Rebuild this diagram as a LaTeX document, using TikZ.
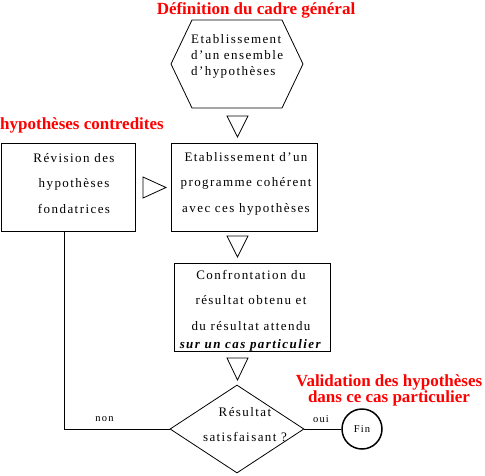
\documentclass[tikz,border=0pt]{standalone}
\usepackage{fontspec}
\setmainfont{Liberation Serif}[LetterSpace=11]
\newfontfamily\plainserif{Liberation Serif}
\usetikzlibrary{shapes.geometric}
\tikzset{
  x=1pt, y=-1pt,
  shapeline/.style={draw, line width=0.8pt},
  boxnode/.style={shapeline, rectangle, inner sep=0pt},
  bodytext/.style={inner sep=0pt, align=center, font=\fontsize{13}{25.5}\selectfont},
  smalltext/.style={inner sep=0pt, font=\fontsize{10.5}{12}\selectfont},
  redlabel/.style={inner sep=0pt, text=red, align=center, font=\plainserif\bfseries\fontsize{17}{16}\selectfont},
  tri/.style={draw, line width=0.8pt},
}
\begin{document}
\begin{tikzpicture}
\useasboundingbox (0,0) rectangle (485,475);
% red labels
\node[redlabel] (title) at (256,10) {Définition du cadre général};
\node[redlabel] (contra) at (82,125) {hypothèses contredites};
\node[redlabel] (valid) at (389,390) {Validation des hypothèses\\dans ce cas particulier};
% hexagon
\coordinate (hex) at (237,64);
\draw[shapeline] (192,20) -- (282,20) -- (303,64) -- (282,108) -- (192,108) -- (171,64) -- cycle;
\node[inner sep=0pt, anchor=west, align=left, font=\fontsize{13}{16}\selectfont] (hextext) at (191,56) {Etablissement\\d'un ensemble\\d'hypothèses};
% boxes
\node[boxnode, minimum width=134pt, minimum height=88pt] (box1) at (68,187) {};
\node[bodytext] (box1text) at (74,183.5) {Révision des\\hypothèses\\fondatrices};
\node[boxnode, minimum width=146pt, minimum height=88pt] (box2) at (244,187) {};
\node[bodytext] (box2text) at (246,183.5) {Etablissement d'un\\programme cohérent\\avec ces hypothèses};
\node[boxnode, minimum width=156pt, minimum height=88pt] (box3) at (252,307) {};
\node[bodytext] (box3text) at (251,311) {Confrontation du\\résultat obtenu et\\du résultat attendu\\[-7pt]\textbf{\textit{sur un cas particulier}}};
% decision
\node[shapeline, diamond, inner sep=0pt, minimum width=134pt, minimum height=88pt] (diam) at (237,429) {};
\node[bodytext] (diamtext) at (245,424.5) {Résultat\\satisfaisant ?};
\node[draw, circle, line width=1.5pt, minimum size=40pt, inner sep=0pt, font=\fontsize{10.5}{12}\selectfont] (fin) at (362,429) {Fin};
% triangles
\draw[tri] (227,116) -- (248,116) -- (237.5,137) -- cycle;
\draw[tri] (227,236) -- (248,236) -- (237.5,257) -- cycle;
\draw[tri] (227,358) -- (248,358) -- (237.5,380) -- cycle;
\draw[tri] (143,177) -- (143,198) -- (166,187.5) -- cycle;
% connectors
\draw[line width=0.8pt] ([xshift=-4pt]box1.south) |- (diam.west);
\draw[line width=0.8pt] (diam.east) -- (fin.west);
\node[smalltext] (non) at (104.5,419) {non};
\node[smalltext] (oui) at (321,419) {oui};
\end{tikzpicture}
\end{document}
